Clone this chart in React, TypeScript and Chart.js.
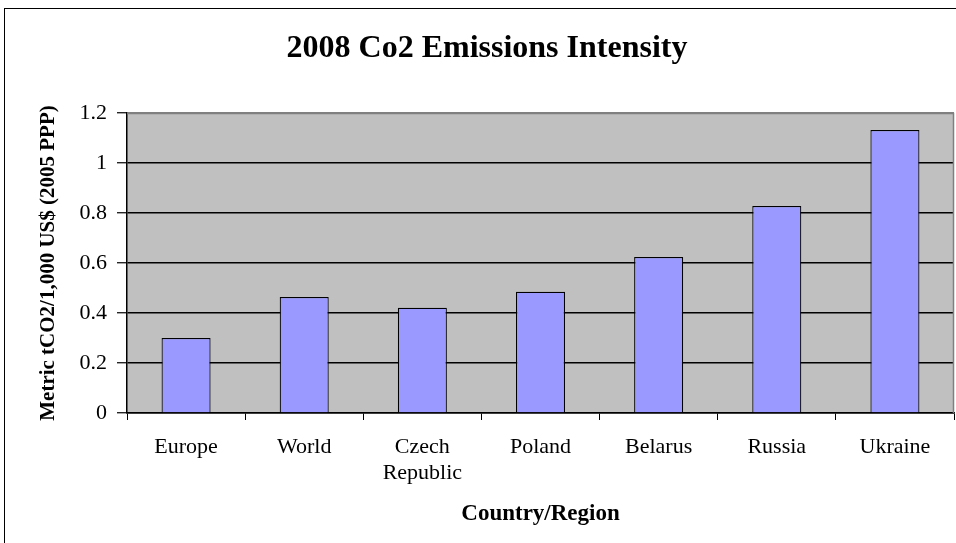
import React, { useEffect, useRef } from "react";
import { Chart, registerables } from "chart.js";

Chart.register(...registerables);

// Emissions intensity by country/region, 2008
const categories: (string | string[])[] = [
  "Europe",
  "World",
  ["Czech", "Republic"],
  "Poland",
  "Belarus",
  "Russia",
  "Ukraine",
];
const intensity: number[] = [0.3, 0.464, 0.421, 0.485, 0.624, 0.828, 1.132];
const yTicks: number[] = [0, 0.2, 0.4, 0.6, 0.8, 1, 1.2];

const chartTitle = "2008 Co2 Emissions Intensity";
const xTitle = "Country/Region";
const yTitle = "Metric tCO2/1,000 US$ (2005 PPP)";

const SERIF = "'Liberation Serif', 'Times New Roman', serif";

// Gray plot background, dark top/right edges, outer frame and chart title
const decorPlugin = {
  id: "decor",
  beforeDraw(chart: any) {
    const { ctx, chartArea } = chart;
    const { left, top, right, bottom } = chartArea;
    ctx.save();
    ctx.fillStyle = "#ffffff";
    ctx.fillRect(0, 0, chart.width, chart.height);
    ctx.fillStyle = "#C0C0C0";
    ctx.fillRect(left, top, right - left, bottom - top);
    // outer frame
    ctx.strokeStyle = "#000000";
    ctx.lineWidth = 1;
    ctx.strokeRect(4.5, 8.5, 1200, 1200);
    // title
    ctx.fillStyle = "#000000";
    ctx.font = `bold 32px ${SERIF}`;
    ctx.textAlign = "center";
    ctx.textBaseline = "alphabetic";
    ctx.fillText(chartTitle, 487, 57);
    ctx.restore();
  },
  afterDatasetsDraw(chart: any) {
    const { ctx, chartArea } = chart;
    const { left, top, right, bottom } = chartArea;
    ctx.save();
    ctx.strokeStyle = "#808080";
    ctx.lineWidth = 1.5;
    ctx.beginPath();
    ctx.moveTo(left, top + 0.5);
    ctx.lineTo(right - 0.5, top + 0.5);
    ctx.lineTo(right - 0.5, bottom);
    ctx.stroke();
    ctx.restore();
  },
};

export default function App() {
  const canvasRef = useRef<HTMLCanvasElement | null>(null);

  useEffect(() => {
    document.body.style.margin = "0";
    const canvas = canvasRef.current;
    if (!canvas) return;
    const chart = new Chart(canvas, {
      type: "bar",
      data: {
        labels: categories,
        datasets: [
          {
            data: intensity,
            backgroundColor: "#9999FF",
            borderColor: "#000000",
            borderWidth: 1.2,
            borderSkipped: "bottom",
            barPercentage: 0.415,
            categoryPercentage: 1,
          },
        ],
      },
      options: {
        animation: false,
        responsive: false,
        maintainAspectRatio: false,
        events: [],
        layout: { padding: { top: 113, left: 0, right: 2, bottom: 0 } },
        plugins: {
          legend: { display: false },
          title: { display: false },
          tooltip: { enabled: false },
        },
        scales: {
          x: {
            grid: {
              display: true,
              offset: true,
              drawOnChartArea: false,
              drawTicks: true,
              tickLength: 7,
              tickColor: "#000000",
              tickWidth: 1,
            },
            border: { display: true, color: "#000000", width: 1.5 },
            ticks: {
              color: "#000000",
              font: { family: SERIF, size: 22, lineHeight: 1.15 },
              padding: 15,
              maxRotation: 0,
              autoSkip: false,
            },
            title: {
              display: true,
              text: xTitle,
              color: "#000000",
              font: { family: SERIF, size: 23, weight: "bold", lineHeight: 1.2 },
              padding: { top: 0, bottom: 15 },
            },
            afterFit(scale: any) {
              scale.height = 130;
            },
          },
          y: {
            min: 0,
            max: 1.2,
            afterBuildTicks(scale: any) {
              scale.ticks = yTicks.map((v) => ({ value: v }));
            },
            grid: {
              color: (c: any) =>
                c.tick && Math.abs(c.tick.value - 1.2) < 1e-6 ? "#808080" : "#000000",
              lineWidth: 1.5,
              drawTicks: true,
              tickLength: 10,
              tickColor: "#000000",
              tickWidth: 1.2,
            },
            border: { display: true, color: "#000000", width: 1.5 },
            ticks: {
              color: "#000000",
              font: { family: SERIF, size: 22 },
              padding: 10,
              callback: (v: any) => String(Math.round(Number(v) * 10) / 10),
            },
            title: {
              display: true,
              text: yTitle,
              color: "#000000",
              font: { family: SERIF, size: 21, weight: "bold", lineHeight: 1.2 },
              padding: { top: 36, bottom: 0 },
            },
            afterFit(scale: any) {
              scale.width = 127;
            },
          },
        },
      },
      plugins: [decorPlugin],
    });
    return () => chart.destroy();
  }, []);

  return (
    <div style={{ position: "absolute", left: 0, top: 0, width: 956, height: 543 }}>
      <canvas ref={canvasRef} width={956} height={543} style={{ display: "block" }} />
    </div>
  );
}
